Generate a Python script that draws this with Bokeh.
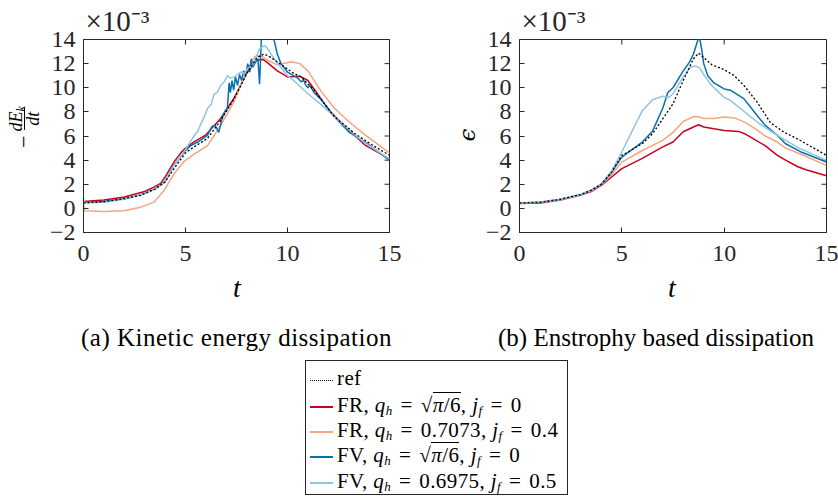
from bokeh.plotting import figure
from bokeh.layouts import column, row
from bokeh.models import Range1d, FixedTicker, Div, Title
from bokeh.embed import file_html
from bokeh.resources import INLINE

# ---------------- data (values in units of 1e-3) ----------------
x_ticks = [0, 5, 10, 15]
y_ticks = [-2, 0, 2, 4, 6, 8, 10, 12, 14]

# (a) kinetic energy dissipation  -dEk/dt
ke_ref_t = [0, 1, 2, 2.8, 3.5, 4, 4.44, 5, 5.42, 6.08, 6.73, 7.39, 8.04, 8.5, 8.86, 9.2, 9.66, 10.3, 10.66, 11.3, 12.3, 13.3, 14.2, 15]
ke_ref = [0.45, 0.55, 0.8, 1.08, 1.6, 2.2, 3.3, 4.6, 5.1, 5.8, 7.3, 9.1, 11.3, 12.5, 12.8, 12.5, 11.95, 11.2, 10.9, 9.8, 7.6, 6.2, 5.2, 4.4]

ke_fr_t = [0, 1, 2, 3, 3.5, 3.8, 4.0, 4.28, 4.5, 4.77, 5.0, 5.4, 6.0, 6.7, 7.4, 8.0, 8.5, 8.8, 9.0, 9.5, 10.0, 10.6, 11.0, 11.3, 12.1, 13.0, 13.8, 15]
ke_fr = [0.58, 0.7, 0.95, 1.4, 1.8, 2.1, 2.6, 3.4, 4.0, 4.6, 5.0, 5.5, 6.1, 7.4, 9.2, 11.2, 12.3, 12.35, 12.1, 11.4, 10.9, 10.95, 10.6, 9.9, 8.0, 6.5, 5.25, 4.1]

ke_fr2_t = [0, 0.05, 1, 2, 2.8, 3.46, 3.95, 4.44, 4.93, 5.42, 6.08, 6.73, 7.39, 8.0, 8.4, 8.65, 9.0, 9.5, 10.2, 10.6, 11.0, 11.65, 12.3, 13.0, 13.8, 15]
ke_fr2 = [0.4, -0.2, -0.25, -0.2, 0.1, 0.52, 1.49, 2.87, 3.9, 4.5, 5.2, 6.9, 8.9, 11.4, 12.6, 12.7, 12.3, 11.9, 12.15, 12.0, 11.4, 9.7, 8.3, 7.2, 6.1, 4.6]

ke_fv_t = [0, 1, 2, 2.8, 3.5, 4, 4.44, 5, 5.26, 5.6, 6.08, 6.3, 6.45, 6.63, 6.8, 6.95, 7.05, 7.14, 7.2, 7.28, 7.36, 7.45, 7.55, 7.65, 7.75, 7.85, 7.95, 8.05, 8.15, 8.22, 8.3, 8.42, 8.55, 8.63, 8.72, 8.85, 9.05, 9.2, 9.35, 9.5, 9.68, 10.0, 10.3, 10.5, 10.66, 10.8, 10.9, 11.0, 11.1, 11.3, 11.65, 12.3, 13.0, 13.8, 15]
ke_fv = [0.5, 0.58, 0.8, 1.13, 1.6, 2.2, 3.6, 4.8, 5.2, 5.5, 6.05, 6.8, 6.9, 6.3, 7.5, 8.1, 8.3, 10.4, 9.6, 10.6, 9.8, 10.9, 10.2, 11.1, 10.6, 11.4, 11.0, 12.0, 11.3, 12.4, 11.7, 12.1, 12.4, 10.3, 14.2, 15.5, 15.8, 14.6, 13.9, 12.8, 12.0, 11.3, 11.0, 10.8, 10.5, 10.6, 10.2, 10.0, 10.2, 9.6, 9.0, 7.6, 6.35, 5.5, 4.0]

ke_fv2_t = [0, 0.05, 1, 2, 2.8, 3.5, 4, 4.44, 4.93, 5.42, 5.6, 5.75, 5.9, 6.08, 6.25, 6.41, 6.55, 6.73, 6.9, 7.06, 7.2, 7.39, 7.55, 7.72, 7.9, 8.04, 8.2, 8.37, 8.61, 8.86, 9.0, 9.35, 10.0, 10.3, 11.0, 11.65, 12.3, 12.96, 13.3, 13.95, 15]
ke_fv2 = [0.9, 0.45, 0.5, 0.75, 1.13, 1.6, 2.2, 3.6, 4.7, 6.0, 6.4, 7.0, 7.5, 8.3, 8.6, 9.5, 9.6, 10.2, 10.5, 11.0, 10.8, 10.9, 11.1, 11.3, 11.2, 11.6, 11.7, 12.1, 13.2, 13.5, 13.3, 12.4, 11.0, 10.6, 9.5, 8.6, 7.6, 6.6, 6.1, 5.25, 4.1]

# (b) enstrophy based dissipation  epsilon
en_ref_t = [0, 1, 2, 3, 3.5, 4, 4.5, 5, 6, 6.5, 7, 7.5, 8, 8.5, 8.75, 9, 9.4, 10, 10.47, 10.96, 11.61, 12.26, 12.91, 13.73, 15]
en_ref = [0.45, 0.5, 0.75, 1.15, 1.5, 2.0, 3.0, 4.39, 5.36, 6.19, 7.43, 8.67, 10.6, 12.4, 12.87, 12.5, 11.9, 11.5, 11.03, 10.2, 8.81, 7.1, 6.33, 5.63, 4.39]

en_fr_t = [0, 1, 2, 3, 3.5, 4, 4.5, 5, 6, 7, 7.5, 8, 8.5, 8.75, 9, 9.5, 10, 10.7, 11, 11.6, 12, 12.6, 13, 13.6, 14, 15]
en_fr = [0.4, 0.45, 0.7, 1.1, 1.4, 1.9, 2.6, 3.3, 4.15, 5.1, 5.5, 6.35, 6.75, 6.93, 6.75, 6.6, 6.46, 6.38, 6.19, 5.6, 5.2, 4.4, 4.0, 3.45, 3.2, 2.7]

en_fr2_t = [0, 1, 2, 3, 3.5, 4, 4.5, 5, 6, 7, 7.5, 8, 8.5, 8.75, 9, 9.5, 10, 10.5, 11, 11.6, 12, 12.6, 13, 13.7, 14, 15]
en_fr2 = [0.45, 0.5, 0.72, 1.12, 1.45, 1.95, 2.8, 3.84, 4.8, 5.64, 6.3, 7.2, 7.6, 7.6, 7.45, 7.45, 7.57, 7.5, 7.15, 6.5, 6.0, 5.5, 5.0, 4.53, 4.3, 3.56]

en_fv_t = [0, 1, 2, 3, 3.5, 4, 4.5, 5, 6, 6.5, 7, 7.25, 7.5, 8, 8.3, 8.5, 8.65, 8.78, 8.9, 9.0, 9.2, 9.5, 10, 10.3, 10.96, 11.61, 12.0, 12.59, 13, 13.73, 15]
en_fv = [0.45, 0.5, 0.75, 1.15, 1.5, 2.0, 3.0, 4.25, 5.5, 6.4, 8.3, 9.6, 10.0, 11.4, 12.1, 12.8, 13.6, 14.3, 13.2, 12.0, 11.0, 10.4, 9.9, 9.8, 9.1, 7.7, 6.9, 6.06, 5.36, 4.7, 3.84]

en_fv2_t = [0, 1, 2, 3, 3.5, 4, 4.5, 5, 5.5, 6, 6.5, 7, 7.3, 7.5, 8, 8.35, 8.6, 8.8, 9, 9.33, 10, 10.3, 11, 11.61, 12.59, 13.73, 15]
en_fv2 = [0.45, 0.5, 0.75, 1.15, 1.5, 2.05, 3.1, 4.67, 6.4, 8.1, 9.0, 9.3, 9.2, 9.5, 10.9, 11.7, 11.8, 11.65, 11.1, 10.3, 9.2, 8.96, 8.0, 7.16, 6.06, 4.94, 3.98]

captions = ["(a) Kinetic energy dissipation", "(b) Enstrophy based dissipation"]
x_label = "t"
y_label_b = "ϵ"
scale_label = "×10⁻³"

# ---------------- style ----------------
FONT = "Liberation Serif"
AX = "#262626"
C_FR, C_FR2, C_FV, C_FV2 = "#ca0020", "#f4a582", "#0571b0", "#92c5de"

FRAME_H = 193
BORDER_T, BORDER_B = 39, 46
ROW_H = BORDER_T + FRAME_H + BORDER_B
BOTTOM_H = 501 - ROW_H
TICK_PX = 5


def make_panel(left_border, frame_w, right_border):
    p = figure(frame_width=frame_w, frame_height=FRAME_H,
               min_border_left=left_border, min_border_right=right_border,
               min_border_top=BORDER_T, min_border_bottom=BORDER_B,
               x_range=Range1d(x_ticks[0], x_ticks[-1]), y_range=Range1d(y_ticks[0], y_ticks[-1]),
               output_backend="svg", toolbar_location=None)
    p.title = Title(text=scale_label, align="left", offset=2, standoff=5,
                    text_font=FONT, text_font_size="29px", text_font_style="normal", text_color=AX)
    p.background_fill_color = "white"
    p.border_fill_color = "white"
    p.outline_line_color = AX
    p.outline_line_width = 1
    p.xgrid.visible = False
    p.ygrid.visible = False
    for ax, ticks in ((p.xaxis[0], x_ticks), (p.yaxis[0], y_ticks)):
        ax.ticker = FixedTicker(ticks=ticks)
        ax.major_tick_in = TICK_PX
        ax.major_tick_out = 0
        ax.minor_tick_line_color = None
        ax.axis_line_color = AX
        ax.major_tick_line_color = AX
        ax.major_label_text_font = FONT
        ax.major_label_text_font_size = "24px"
        ax.major_label_text_color = AX
    p.yaxis.major_label_standoff = 8
    p.xaxis.major_label_standoff = 13
    # mirrored inward ticks on the top and right edges of the box
    x0, x1 = x_ticks[0], x_ticks[-1]
    y0, y1 = y_ticks[0], y_ticks[-1]
    dy = TICK_PX / FRAME_H * (y1 - y0)
    dx = TICK_PX / frame_w * (x1 - x0)
    p.segment(x0=x_ticks, y0=[y1] * len(x_ticks), x1=x_ticks, y1=[y1 - dy] * len(x_ticks),
              line_color=AX, line_width=1)
    p.segment(x0=[x1] * len(y_ticks), y0=y_ticks, x1=[x1 - dx] * len(y_ticks), y1=y_ticks,
              line_color=AX, line_width=1)
    return p


def add_lines(p, data):
    for t, v, c in data[1:]:
        p.line(t, v, line_color=c, line_width=1.5)
    t, v, c = data[0]
    p.line(t, v, line_color=c, line_width=1.3, line_dash="2 2")


# page geometry: frame (a) x 83..389, frame (b) x 519..826, frames y 39..232
YLAB_A_W = 45
p1 = make_panel(83 - YLAB_A_W, 306, 30)               # page x 45 .. 419
add_lines(p1, [(ke_ref_t, ke_ref, "black"), (ke_fr_t, ke_fr, C_FR), (ke_fr2_t, ke_fr2, C_FR2),
               (ke_fv_t, ke_fv, C_FV), (ke_fv2_t, ke_fv2, C_FV2)])
YLAB_B_W = 62
p2 = make_panel(519 - 419 - YLAB_B_W, 307, 12)        # page x 481 .. 838
add_lines(p2, [(en_ref_t, en_ref, "black"), (en_fr_t, en_fr, C_FR), (en_fr2_t, en_fr2, C_FR2),
               (en_fv_t, en_fv, C_FV), (en_fv2_t, en_fv2, C_FV2)])

# ---------------- html texts ----------------
ser = f"font-family:'{FONT}',serif;"

# rotated fraction  - dE_k / dt   (centre at page (24, 127))
ylab_a_html = (f'<div style="position:relative;width:{YLAB_A_W}px;height:{ROW_H}px;{ser}color:#000;">'
               f'<div style="position:absolute;left:-5px;top:{127 - 17}px;width:58px;height:34px;display:flex;'
               'align-items:center;justify-content:center;transform:rotate(-90deg);font-style:italic;">'
               '<span style="font-style:normal;font-size:22px;margin-right:4px;">−</span>'
               '<span style="display:inline-flex;flex-direction:column;align-items:center;font-size:18px;line-height:16px;">'
               '<span>dE<sub style="font-size:12px;vertical-align:-3px;line-height:0;">k</sub></span>'
               '<span style="border-top:1px solid #000;padding:0 4px;">dt</span></span>'
               '</div></div>')
ylab_a = Div(text=ylab_a_html, width=YLAB_A_W, height=ROW_H, margin=(0, 0, 0, 0))

ylab_b_html = (f'<div style="position:relative;width:{YLAB_B_W}px;height:{ROW_H}px;color:#000;">'
               f'<div style="position:absolute;left:{48 - 15}px;top:{135 - 15}px;width:30px;height:30px;display:flex;'
               'align-items:center;justify-content:center;transform:rotate(-90deg);'
               f'font-family:\'DejaVu Serif\',serif;font-style:italic;font-size:23px;">{y_label_b}</div></div>')
ylab_b = Div(text=ylab_b_html, width=YLAB_B_W, height=ROW_H, margin=(0, 0, 0, 0))

# bottom strip: x labels, captions, legend
B0 = ROW_H
EQ = '<span style="margin:0 8px;">=</span>'
SUB = 'style="font-size:13px;vertical-align:-3px;line-height:0;"'
Q = f'<i>q</i><sub {SUB}><i>h</i></sub>'
J = f'<i>j</i><sub {SUB}><i>f</i></sub>'
SQRT = ('<span>√</span>'
        '<span style="border-top:1.3px solid #000;"><i>π</i>/6</span>')
legend_items = [
    ("border-top:1.5px dotted #000", "ref"),
    (f"border-top:2px solid {C_FR}", f"FR, {Q}{EQ}{SQRT}, {J}{EQ}0"),
    (f"border-top:2px solid {C_FR2}", f"FR, {Q}{EQ}0.7073, {J}{EQ}0.4"),
    (f"border-top:2px solid {C_FV}", f"FV, {Q}{EQ}{SQRT}, {J}{EQ}0"),
    (f"border-top:2px solid {C_FV2}", f"FV, {Q}{EQ}0.6975, {J}{EQ}0.5"),
]
row_centres = [377, 404, 429, 454, 480]   # page y
LEG_TOP = 360
rows_html = ""
for (ls, txt), cy in zip(legend_items, row_centres):
    rows_html += (f'<div style="position:absolute;left:4px;top:{cy - LEG_TOP - 13}px;height:26px;line-height:26px;'
                  f'white-space:nowrap;letter-spacing:0.4px;">'
                  f'<span style="display:inline-block;width:23px;height:0;{ls};vertical-align:middle;margin-right:4px;"></span>'
                  f'{txt}</div>')

xlab = ('<div style="position:absolute;left:{l}px;top:{t}px;width:40px;text-align:center;font-size:28px;'
        'line-height:28px;font-style:italic;">{s}</div>')
bottom_html = (f'<div style="position:relative;width:838px;height:{BOTTOM_H}px;{ser}color:#000;font-size:21px;">'
               + xlab.format(l=237 - 20, t=274 - B0, s=x_label)
               + xlab.format(l=672 - 20, t=274 - B0, s=x_label)
               + f'<div style="position:absolute;left:81px;top:{323 - B0}px;font-size:25px;line-height:30px;'
               f'letter-spacing:0.5px;white-space:nowrap;">{captions[0]}</div>'
               + f'<div style="position:absolute;left:498px;top:{323 - B0}px;font-size:25px;line-height:30px;'
               f'white-space:nowrap;">{captions[1]}</div>'
               + f'<div style="position:absolute;left:305px;top:{LEG_TOP - B0}px;width:263px;height:135px;box-sizing:border-box;'
               f'border:1px solid {AX};background:white;">{rows_html}</div>'
               + '</div>')
bottom_div = Div(text=bottom_html, width=838, height=BOTTOM_H, margin=(0, 0, 0, 0))

layout = column(row(ylab_a, p1, ylab_b, p2, spacing=0), bottom_div, spacing=0)
open("out.html", "w").write(file_html(layout, INLINE))
